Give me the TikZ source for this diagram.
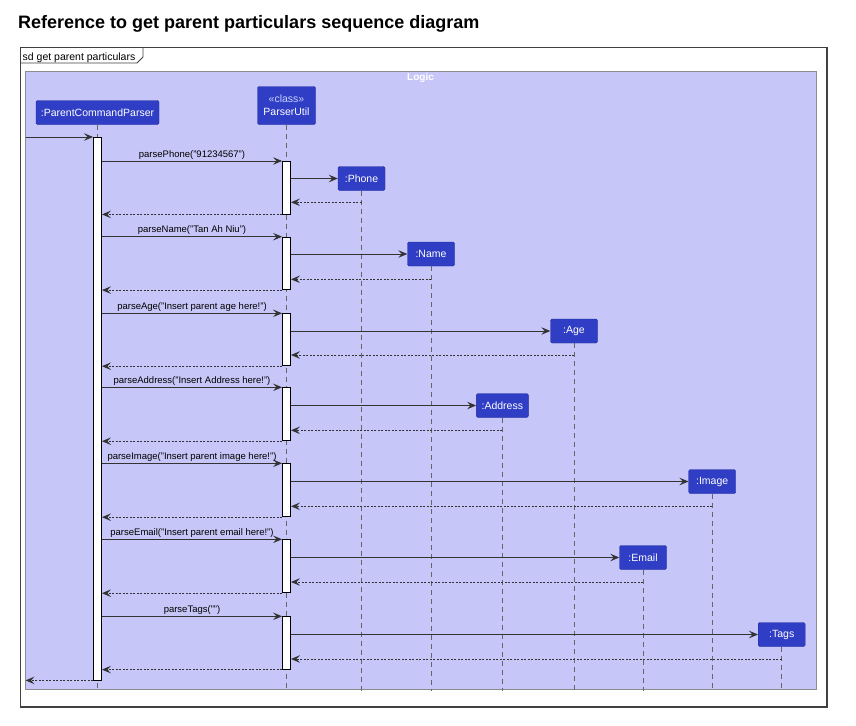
\documentclass[tikz,border=0pt]{standalone}
\usepackage{fontspec}
\setmainfont{Liberation Sans}
\usetikzlibrary{arrows.meta}
\definecolor{logicfill}{RGB}{198,198,248}
\definecolor{partfill}{RGB}{47,62,196}
\definecolor{partdraw}{RGB}{32,42,150}
\definecolor{classtext}{RGB}{200,210,255}
\tikzset{participant/.style = {draw=partdraw, fill=partfill, text=white,
                               rounded corners=1.5pt, inner sep=0pt,
                               minimum height=24pt,
                               font=\fontsize{10.5}{13}\selectfont},
         actbar/.style = {draw=black, fill=white, line width=0.9pt,
                          minimum width=8pt, minimum height=#1,
                          inner sep=0pt, anchor=north},
         lifeline/.style = {draw=black!60, line width=0.7pt,
                            dash pattern=on 5pt off 4pt},
         msg/.style = {draw=black!80, line width=0.9pt,
                       -{Stealth[length=9pt,width=7.5pt,inset=3.5pt]}},
         ret/.style = {msg, dash pattern=on 2pt off 1.5pt},
         msglabel/.style = {above, midway, inner sep=1.5pt,
                            font=\fontsize{9.5}{10}\selectfont},
         framebox/.style = {draw=black!75, line width=1.1pt}}

\begin{document}
\begin{tikzpicture}[x=1pt, y=-1pt]
    \useasboundingbox (0, 0) rectangle (856, 725);
    \node [anchor=base west, inner sep=0pt,
           font=\fontsize{18}{20}\selectfont\bfseries] (title) at (18, 29)
          {Reference to get parent particulars sequence diagram};
    % sd frame
    \draw [framebox] (20.5, 47.5) rectangle (827, 707);
    \draw [draw=black!75, line width=0.8pt] (20.5, 63) -- (137, 63) -- (143, 57) -- (143, 47.5);
    \node [anchor=base west, inner sep=0pt, font=\fontsize{10.5}{12}\selectfont]
          (sdlabel) at (22.5, 60) {sd get parent particulars};
    % Logic box
    \draw [draw=black!45, line width=0.7pt, fill=logicfill] (25.5, 71) rectangle (816, 689);
    \node [text=white, font=\fontsize{10}{11}\selectfont\bfseries] (logic) at (420.5, 78) {Logic};
    % participants
    \node [participant, minimum width=123pt] (pcp) at (97.5, 112.5) {:ParentCommandParser};
    \node [participant, minimum width=58pt, minimum height=38pt, align=center] (pu) at (286.5, 105.5)
          {{\color{classtext}«class»}\\ParserUtil};
    \node [participant, minimum width=47pt] (phone) at (361.5, 178.5) {:Phone};
    \node [participant, minimum width=47pt] (name) at (431, 254) {:Name};
    \node [participant, minimum width=47pt] (age) at (574, 331) {:Age};
    \node [participant, minimum width=52pt] (address) at (502.3, 405.5) {:Address};
    \node [participant, minimum width=47pt] (image) at (712.2, 481.5) {:Image};
    \node [participant, minimum width=47pt] (email) at (643, 557.5) {:Email};
    \node [participant, minimum width=47pt] (tags) at (781.7, 634.5) {:Tags};
    % lifelines
    \coordinate (bottom) at (0, 691);
    \draw [lifeline] (pcp.south) -- (pcp.south |- bottom);
    \draw [lifeline] (pu.south) -- (pu.south |- bottom);
    \draw [lifeline] (phone.south) -- (phone.south |- bottom);
    \draw [lifeline] (name.south) -- (name.south |- bottom);
    \draw [lifeline] (age.south) -- (age.south |- bottom);
    \draw [lifeline] (address.south) -- (address.south |- bottom);
    \draw [lifeline] (image.south) -- (image.south |- bottom);
    \draw [lifeline] (email.south) -- (email.south |- bottom);
    \draw [lifeline] (tags.south) -- (tags.south |- bottom);
    % activations
    \node [actbar=542.5pt] (pcpbar) at (97.5, 137) {};
    \node [actbar=52.5pt] (act1) at (286.5, 161) {};
    \node [actbar=52.5pt] (act2) at (286.5, 236.7) {};
    \node [actbar=52pt] (act3) at (286.5, 313.3) {};
    \node [actbar=53pt] (act4) at (286.5, 387.3) {};
    \node [actbar=53pt] (act5) at (286.5, 463.3) {};
    \node [actbar=53pt] (act6) at (286.5, 539.3) {};
    \node [actbar=52.4pt] (act7) at (286.5, 616.3) {};
    % incoming call
    \coordinate (entry) at (25.5, 137);
    \draw [msg] (entry) -- (pcpbar.north west);
    % phone
    \draw [msg] (pcpbar.east |- act1.north) -- node [msglabel] {parsePhone("91234567")} (act1.north west);
    \draw [msg] (act1.east |- phone.west) -- (phone.west);
    \coordinate (back1) at (0, 202.3);
    \draw [ret] (phone |- back1) -- (act1.east |- back1);
    \draw [ret] (act1.south west) -- (pcpbar.east |- act1.south);
    % name
    \draw [msg] (pcpbar.east |- act2.north) -- node [msglabel] {parseName("Tan Ah Niu")} (act2.north west);
    \draw [msg] (act2.east |- name.west) -- (name.west);
    \coordinate (back2) at (0, 279.3);
    \draw [ret] (name |- back2) -- (act2.east |- back2);
    \draw [ret] (act2.south west) -- (pcpbar.east |- act2.south);
    % age
    \draw [msg] (pcpbar.east |- act3.north) -- node [msglabel] {parseAge("Insert parent age here!")} (act3.north west);
    \draw [msg] (act3.east |- age.west) -- (age.west);
    \coordinate (back3) at (0, 355);
    \draw [ret] (age |- back3) -- (act3.east |- back3);
    \draw [ret] (act3.south west) -- (pcpbar.east |- act3.south);
    % address
    \draw [msg] (pcpbar.east |- act4.north) -- node [msglabel] {parseAddress("Insert Address here!")} (act4.north west);
    \draw [msg] (act4.east |- address.west) -- (address.west);
    \coordinate (back4) at (0, 430.3);
    \draw [ret] (address |- back4) -- (act4.east |- back4);
    \draw [ret] (act4.south west) -- (pcpbar.east |- act4.south);
    % image
    \draw [msg] (pcpbar.east |- act5.north) -- node [msglabel] {parseImage("Insert parent image here!")} (act5.north west);
    \draw [msg] (act5.east |- image.west) -- (image.west);
    \coordinate (back5) at (0, 506.3);
    \draw [ret] (image |- back5) -- (act5.east |- back5);
    \draw [ret] (act5.south west) -- (pcpbar.east |- act5.south);
    % email
    \draw [msg] (pcpbar.east |- act6.north) -- node [msglabel] {parseEmail("Insert parent email here!")} (act6.north west);
    \draw [msg] (act6.east |- email.west) -- (email.west);
    \coordinate (back6) at (0, 582);
    \draw [ret] (email |- back6) -- (act6.east |- back6);
    \draw [ret] (act6.south west) -- (pcpbar.east |- act6.south);
    % tags
    \draw [msg] (pcpbar.east |- act7.north) -- node [msglabel] {parseTags("")} (act7.north west);
    \draw [msg] (act7.east |- tags.west) -- (tags.west);
    \coordinate (back7) at (0, 659);
    \draw [ret] (tags |- back7) -- (act7.east |- back7);
    \draw [ret] (act7.south west) -- (pcpbar.east |- act7.south);
    % outgoing return
    \draw [ret] (pcpbar.south west) -- (entry |- pcpbar.south);
\end{tikzpicture}
\end{document}
